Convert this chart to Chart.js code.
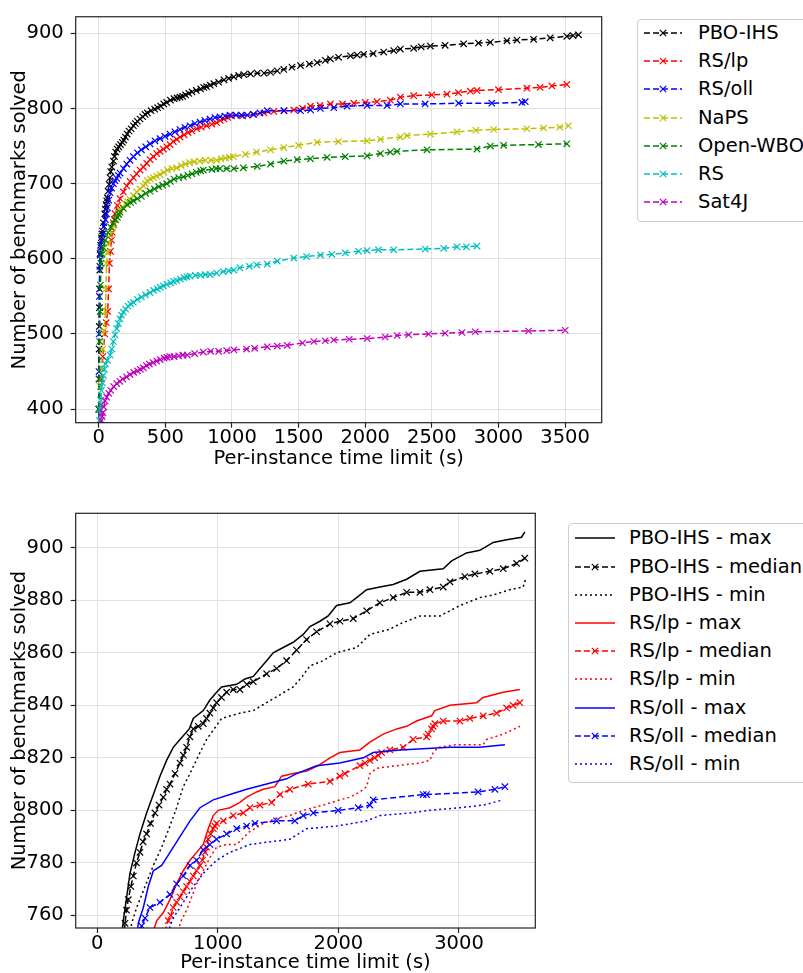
<!DOCTYPE html>
<html>
<head>
<meta charset="utf-8">
<title>Benchmarks solved</title>
<script src="https://cdn.jsdelivr.net/npm/chart.js@4.4.1/dist/chart.umd.min.js"></script>
<style>
  html, body { margin: 0; padding: 0; background: #fff; }
  body { position: relative; width: 803px; height: 973px; overflow: hidden; font-family: "DejaVu Sans", sans-serif; }
  canvas { position: absolute; left: 0; }
  .legend { position: absolute; border: 1px solid #cccccc; border-radius: 4px; background: #fff; width: 260px; }
  .legend .row { position: absolute; left: 0; height: 28px; width: 258px; }
  .legend svg { position: absolute; top: 0; }
  .legend span { position: absolute; top: 0; line-height: 28px; font-size: 19.5px; color: #000; white-space: nowrap; }
</style>
</head>
<body>
<canvas id="topChart" width="620" height="472" style="top:0"></canvas>
<canvas id="bottomChart" width="560" height="493" style="top:480px"></canvas>
<div id="topLegend" class="legend" style="left:637px;top:19px;height:201px"></div>
<div id="bottomLegend" class="legend" style="left:568px;top:523px;height:258px"></div>

<script>
// ---------- top chart: solved benchmarks per solver ----------
const topXTicks = [0, 500, 1000, 1500, 2000, 2500, 3000, 3500];
const topYTicks = [400, 500, 600, 700, 800, 900];
const topLabels = ['PBO-IHS', 'RS/lp', 'RS/oll', 'NaPS', 'Open-WBO', 'RS', 'Sat4J'];
const topColors = ['#000000', '#ff0000', '#0000ff', '#bfbf00', '#008000', '#00bfbf', '#bf00bf'];

const pboTime = [0,1,2,3,4,5,6,8,10,14,20,24,28,35,45,50,55,60,65,70,78,84,90,98,110,118,127,138,150,163,177,188,200,213,227,243,260,275,290,310,330,348,365,392,420,442,465,488,510,538,565,588,610,630,652,676,700,732,765,788,810,837,864,900,940,975,1014,1050,1089,1140,1190,1240,1290,1340,1389,1450,1514,1580,1639,1700,1739,1800,1889,1940,1989,2060,2139,2214,2264,2364,2420,2489,2600,2739,2850,2939,3064,3139,3264,3388,3513,3560,3601];
const pboSolved = [330,400,440,480,510,535,560,585,607,618,628,633,637,648,660,666,672,677,681,690,699,708,716,722,730,736,742,746,749,752,755,758,762,766,770,773,777,780,783,786,789,792,794,797,799,801,803,806,808,811,813,814,815,816,818,820,822,824,826,828,829,831,833,835,838,840,842,844,845,846,847,847,848,850,852,855,857,859,861,864,866,868,870,871,872,873,875,877,879,880,882,883,884,886,887,888,890,891,892,894,896,897,898];

const lpTime = [0,10,20,30,45,56,67,74,80,88,95,102,110,116,122,140,160,185,210,235,260,285,310,335,360,385,410,435,460,485,510,535,560,585,610,640,670,700,735,770,810,848,885,912,940,968,997,1080,1164,1240,1314,1390,1464,1530,1589,1660,1739,1830,1914,2000,2089,2189,2264,2364,2500,2614,2700,2789,2839,3000,3214,3313,3401,3513];
const lpSolved = [330,400,440,470,500,515,530,560,594,610,625,635,645,652,660,671,680,689,697,703,708,713,718,722,727,732,736,740,743,746,749,752,756,759,762,765,768,770,773,775,777,779,781,784,786,788,790,790,792,794,796,797,798,800,803,804,806,806,807,808,809,811,815,817,818,819,821,823,824,825,827,828,830,832];

const ollTime = [0,1,2,3,5,8,11,15,22,30,40,50,58,65,75,85,97,110,122,135,147,160,185,210,235,260,290,320,352,385,422,460,497,535,572,610,647,685,722,760,797,835,872,910,947,985,1030,1070,1115,1160,1210,1265,1390,1514,1590,1664,1764,1864,2014,2164,2264,2450,2701,2950,3176,3201];
const ollSolved = [330,400,450,500,550,590,605,615,625,633,643,652,660,668,678,688,694,700,704,707,711,714,720,726,731,736,741,745,749,753,757,760,763,766,769,772,775,777,780,782,784,786,788,789,790,791,791,791,791,792,794,797,797,797,798,800,801,803,804,804,806,806,807,807,808,809];

const napsTime = [0,10,20,30,40,50,54,58,66,75,88,100,115,130,145,160,180,200,218,235,260,285,310,335,350,365,388,410,435,460,488,515,550,585,618,650,682,715,757,800,842,885,918,950,980,1010,1100,1185,1290,1389,1500,1639,1800,2014,2114,2264,2314,2489,2689,2830,2964,3214,3339,3460,3526];
const napsSolved = [330,430,455,480,505,530,560,594,608,620,632,640,646,652,659,665,669,673,676,679,684,689,693,697,700,704,706,708,710,712,715,718,720,721,724,726,728,729,730,731,731,731,733,734,735,736,739,742,745,748,751,755,756,757,759,762,764,766,769,771,772,773,774,775,777];

const wboTime = [0,2,5,7,10,13,17,25,35,50,70,90,110,125,140,150,160,185,215,238,260,290,320,352,385,418,450,480,510,538,565,600,635,668,700,732,765,785,850,880,910,960,1014,1085,1190,1290,1389,1489,1589,1714,1850,2014,2114,2189,2239,2464,2839,2939,3039,3300,3513];
const wboSolved = [330,400,440,490,530,565,594,606,615,625,635,642,648,652,655,659,662,667,672,675,677,680,683,687,690,693,696,698,700,703,706,708,709,711,713,715,717,718,719,720,720,720,720,721,723,726,730,732,733,735,736,737,740,742,743,745,746,750,751,752,753];

const rsTime = [0,5,10,15,20,27,35,42,50,65,85,98,110,122,135,148,160,172,185,202,220,240,260,290,320,352,385,412,440,462,485,512,540,562,585,612,640,662,685,725,765,800,835,885,935,975,1014,1059,1130,1185,1265,1340,1464,1560,1664,1750,1850,1950,2014,2100,2214,2450,2589,2689,2760,2839];
const rsSolved = [330,385,400,412,425,435,445,453,460,465,472,480,490,499,507,514,520,525,529,533,537,540,542,546,549,552,555,558,560,562,564,566,568,570,571,573,575,576,577,578,578,579,579,581,583,584,585,588,590,592,593,597,601,603,605,606,608,610,611,612,612,613,614,616,616,617];

const satTime = [12,20,25,30,38,47,60,75,90,112,135,158,180,208,235,262,290,312,335,358,380,408,435,462,490,512,535,565,600,630,665,720,785,840,900,960,1014,1109,1170,1265,1340,1414,1530,1614,1700,1764,1880,2014,2150,2239,2326,2476,2600,2726,2826,3226,3501];
const satSolved = [330,385,390,395,403,411,416,421,425,430,434,437,440,443,446,449,451,453,455,458,460,462,464,466,468,469,470,470,471,472,472,474,476,477,477,478,479,480,481,483,484,485,488,490,491,492,493,494,496,498,499,500,501,502,503,504,505];

// ---------- bottom chart: max / median / min over runs ----------
const botXTicks = [0, 1000, 2000, 3000];
const botYTicks = [760, 780, 800, 820, 840, 860, 880, 900];
const botLabels = ['PBO-IHS - max', 'PBO-IHS - median', 'PBO-IHS - min',
                   'RS/lp - max', 'RS/lp - median', 'RS/lp - min',
                   'RS/oll - max', 'RS/oll - median', 'RS/oll - min'];
const botColors = ['#000000', '#000000', '#000000', '#ff0000', '#ff0000', '#ff0000', '#0000ff', '#0000ff', '#0000ff'];
const botKinds = ['max', 'median', 'min', 'max', 'median', 'min', 'max', 'median', 'min'];

const pboMaxTime = [150,216,244,271,313,354,409,465,520,575,630,686,763,796,879,934,990,1031,1156,1225,1294,1349,1405,1459,1542,1625,1708,1764,1847,1915,1985,2095,2151,2234,2344,2454,2566,2676,2869,2939,3063,3173,3284,3395,3519,3546];
const pboMaxSolved = [730,758,767,776,784,791,799,806,813,819,824,827,831,835,838,842,845,847,848,850,851,854,857,860,862,864,867,870,872,874,878,879,881,884,885,886,888,891,892,895,898,899,902,903,904,906];
const pboMedTime = [170,230,243,257,278,299,325,354,380,409,442,478,512,547,575,603,645,686,714,741,768,796,838,879,906,934,962,990,1030,1073,1128,1183,1240,1294,1405,1488,1570,1653,1736,1819,1930,2013,2123,2234,2344,2454,2566,2676,2759,2869,2925,3049,3132,3256,3367,3478,3546];
const pboMedSolved = [720,757,762,766,771,775,780,784,788,791,795,799,802,805,808,810,814,818,821,824,828,831,832,833,835,837,839,841,843,845,846,846,848,849,852,854,857,861,865,868,871,872,873,876,879,881,883,883,884,885,887,889,890,891,892,894,896];
const pboMinTime = [200,285,327,396,465,534,603,658,713,769,852,907,1031,1183,1294,1405,1515,1625,1700,1764,1874,1985,2151,2261,2344,2427,2510,2676,2842,2925,3008,3173,3284,3422,3532,3552];
const pboMinSolved = [720,757,763,771,779,786,794,801,809,814,822,827,835,837,838,841,844,847,851,855,857,860,862,867,868,869,871,874,874,876,878,881,882,884,885,888];

const lpMaxTime = [400,465,493,547,603,658,713,769,824,879,920,962,1003,1100,1183,1239,1322,1377,1473,1529,1625,1736,1833,1930,2012,2178,2261,2372,2483,2566,2648,2773,2800,2925,3146,3201,3367,3505];
const lpMaxSolved = [730,754,758,761,766,772,777,781,784,787,793,798,800,801,803,805,807,808,809,813,814,815,817,820,822,823,826,829,831,832,834,836,838,840,841,843,845,846];
const lpMedTime = [520,561,589,610,630,658,686,714,741,768,796,824,852,872,893,906,920,940,962,975,990,1045,1128,1211,1266,1349,1446,1515,1597,1750,1930,2012,2054,2178,2220,2261,2300,2330,2358,2427,2537,2620,2731,2745,2773,2786,2800,2869,3008,3090,3201,3312,3395,3449,3505];
const lpMedSolved = [740,754,758,760,763,765,767,769,771,773,775,777,779,781,784,786,789,791,793,794,795,796,798,799,801,802,803,806,808,810,811,813,814,817,818,819,820,821,822,823,824,827,828,829,831,832,833,834,834,835,836,837,839,840,841];
const lpMinTime = [600,686,741,783,824,879,934,990,1073,1156,1266,1377,1487,1597,1708,1874,2012,2095,2178,2234,2261,2317,2483,2676,2759,2786,2828,2980,3201,3229,3367,3505];
const lpMinSolved = [720,757,762,767,772,777,782,786,787,787,792,795,797,798,800,802,804,805,807,809,814,816,817,818,819,822,824,825,825,827,829,832];

const ollMaxTime = [300,340,382,423,465,534,603,686,769,852,962,1100,1239,1405,1570,1653,1819,2012,2206,2289,2510,2925,3173,3381];
const ollMaxSolved = [740,757,763,771,777,779,784,790,796,801,804,806,808,810,812,814,817,818,820,822,823,824,824,825];
const ollMedTime = [330,368,396,437,520,603,658,713,769,824,879,934,990,1073,1156,1239,1308,1487,1639,1708,1791,1998,2164,2261,2289,2703,2731,3159,3298,3381];
const ollMedSolved = [740,756,759,763,765,768,772,775,779,781,785,787,789,791,793,794,795,796,796,798,799,800,801,802,804,806,806,807,808,809];
const ollMinTime = [550,603,630,686,741,796,879,990,1100,1266,1432,1597,1736,1985,2234,2344,2593,2759,3008,3201,3367];
const ollMinSolved = [740,756,759,763,767,771,776,781,784,787,788,789,793,794,796,798,799,800,801,802,804];

// ---------- helpers ----------
Chart.defaults.font.family = '"DejaVu Sans", sans-serif';
const axisFont = { family: '"DejaVu Sans", sans-serif', size: 19.5, lineHeight: 1 };
const dashes = { max: [], median: [6, 3], min: [2, 3] };

function pts(xs, ys) {
    return xs.map((x, i) => ({ x: x, y: ys[i] }));
}

function lineSet(label, color, data, kind, i) {
    const marker = kind === 'median';
    return {
        label: label,
        data: data,
        order: -i,  // later series on top, like matplotlib
        borderColor: color,
        backgroundColor: color,
        borderWidth: 1.5,
        borderDash: dashes[kind],
        pointStyle: 'crossRot',
        pointRadius: marker ? 4.5 : 0,
        pointHoverRadius: 0,
        pointBorderColor: color,
        pointBorderWidth: 1.2,
        tension: 0,
        fill: false
    };
}

// axis box on all four sides
const frame = {
    id: 'frame',
    afterDatasetsDraw(chart) {
        const { ctx, chartArea: a } = chart;
        ctx.save();
        ctx.strokeStyle = '#222';
        ctx.lineWidth = 1.2;
        ctx.strokeRect(a.left, a.top, a.right - a.left, a.bottom - a.top);
        ctx.restore();
    }
};

const grid = { color: '#e1e1e1', lineWidth: 1, tickColor: '#222', tickLength: 5, tickWidth: 1.2 };

function makeChart(id, datasets, c) {
    return new Chart(document.getElementById(id), {
        type: 'line',
        data: { datasets: datasets },
        options: {
            responsive: false,
            animation: false,
            devicePixelRatio: 1,
            events: [],
            layout: { padding: c.padding },
            plugins: { legend: { display: false }, tooltip: { enabled: false } },
            scales: {
                x: {
                    type: 'linear', min: c.xMin, max: c.xMax,
                    afterBuildTicks: s => { s.ticks = c.xTicks.map(v => ({ value: v })); },
                    afterFit: s => { s.height = c.xHeight; },
                    grid: grid,
                    border: { display: false },
                    ticks: { callback: v => String(v), padding: 0.7, maxRotation: 0, autoSkip: false, color: '#000', font: axisFont },
                    title: { display: true, text: 'Per-instance time limit (s)', color: '#000', font: axisFont, padding: { top: 0, bottom: c.xTitlePad } }
                },
                y: {
                    type: 'linear', min: c.yMin, max: c.yMax,
                    afterBuildTicks: s => { s.ticks = c.yTicks.map(v => ({ value: v })); },
                    afterFit: s => { s.width = c.yWidth; },
                    grid: grid,
                    border: { display: false },
                    ticks: { callback: v => String(v), padding: 7, autoSkip: false, color: '#000', font: axisFont },
                    title: { display: true, text: 'Number of benchmarks solved', color: '#000', font: axisFont, padding: { top: 10.2, bottom: 0 } }
                }
            }
        },
        plugins: [frame]
    });
}

// legend drawn as html, line samples in svg
function buildLegend(id, labels, colors, kinds, sampleW) {
    const box = document.getElementById(id);
    const first = id === 'topLegend' ? -0.7 : 0.3;
    const step = id === 'topLegend' ? 28.07 : 28.2;
    labels.forEach((label, i) => {
        const row = document.createElement('div');
        row.className = 'row';
        row.style.top = (first + i * step) + 'px';
        const dash = dashes[kinds[i]].join(' ');
        const m = sampleW / 2;
        let svg = '<svg width="' + sampleW + '" height="28" style="left:6px">' +
            '<line x1="0" y1="14" x2="' + sampleW + '" y2="14" stroke="' + colors[i] + '" stroke-width="1.5"' +
            (dash ? ' stroke-dasharray="' + dash + '"' : '') + '/>';
        if (kinds[i] === 'median') {
            svg += '<path d="M' + (m - 3.2) + ' 10.8 L' + (m + 3.2) + ' 17.2 M' + (m - 3.2) + ' 17.2 L' + (m + 3.2) + ' 10.8" stroke="' + colors[i] + '" stroke-width="1.2"/>';
        }
        svg += '</svg>';
        row.innerHTML = svg + '<span style="left:60px">' + label + '</span>';
        box.appendChild(row);
    });
}

// ---------- top chart ----------
const topSeries = [pts(pboTime, pboSolved), pts(lpTime, lpSolved), pts(ollTime, ollSolved),
                   pts(napsTime, napsSolved), pts(wboTime, wboSolved), pts(rsTime, rsSolved), pts(satTime, satSolved)];

makeChart('topChart', topSeries.map((d, i) => lineSet(topLabels[i], topColors[i], d, 'median', i)), {
    padding: { top: 8, right: 18.3, left: 0, bottom: 0 },
    xMin: -173, xMax: 3775, yMin: 382, yMax: 922,
    xTicks: topXTicks, yTicks: topYTicks,
    xHeight: 49.3, yWidth: 75.7, xTitlePad: 3.5
});
buildLegend('topLegend', topLabels, topColors, topLabels.map(() => 'median'), 38);

// ---------- bottom chart ----------
const botSeries = [pts(pboMaxTime, pboMaxSolved), pts(pboMedTime, pboMedSolved), pts(pboMinTime, pboMinSolved),
                   pts(lpMaxTime, lpMaxSolved), pts(lpMedTime, lpMedSolved), pts(lpMinTime, lpMinSolved),
                   pts(ollMaxTime, ollMaxSolved), pts(ollMedTime, ollMedSolved), pts(ollMinTime, ollMinSolved)];

makeChart('bottomChart', botSeries.map((d, i) => lineSet(botLabels[i], botColors[i], d, botKinds[i], i)), {
    padding: { top: 33.3, right: 24.7, left: 0, bottom: 0 },
    xMin: -179, xMax: 3633, yMin: 755.2, yMax: 913.1,
    xTicks: botXTicks, yTicks: botYTicks,
    xHeight: 45, yWidth: 75.7, xTitlePad: 0
});
buildLegend('bottomLegend', botLabels, botColors, botKinds, 40);
</script>
</body>
</html>
